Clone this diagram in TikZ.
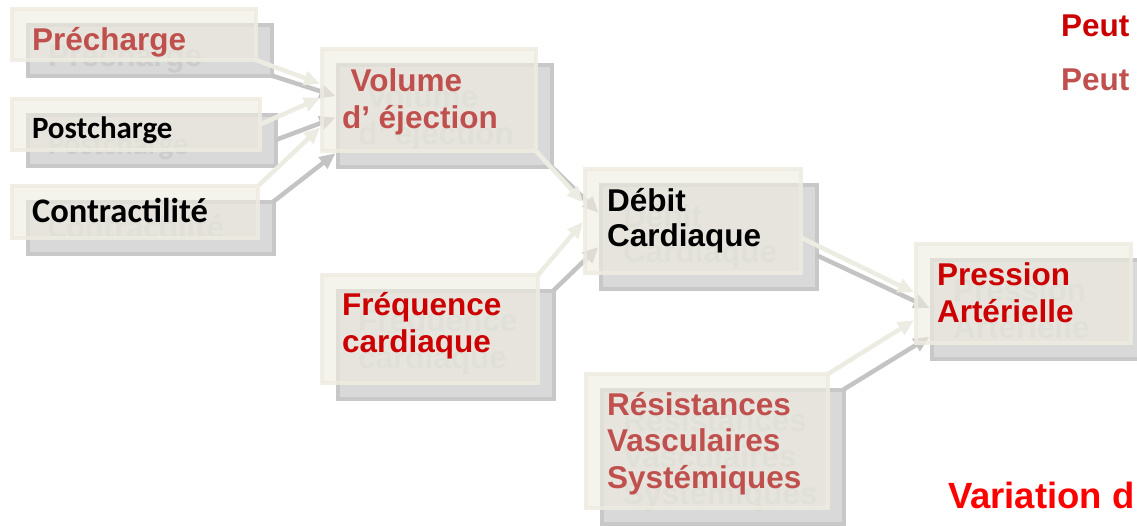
\documentclass[tikz,border=0pt]{standalone}
\usepackage{fontspec}
\newfontfamily\arialf{Liberation Sans}
\newfontfamily\calf{Carlito}
\usetikzlibrary{arrows.meta,calc}
\definecolor{frontc}{HTML}{EEECE1}
\definecolor{backfill}{HTML}{D9D9D9}
\definecolor{backedge}{HTML}{C8C8C8}
\definecolor{ghostc}{HTML}{CBCBCB}
\definecolor{lightarrow}{HTML}{EDECE2}
\definecolor{greyarrow}{HTML}{C4C4C4}
\definecolor{redA}{HTML}{C0504D}
\definecolor{redB}{HTML}{CC0000}
\definecolor{redC}{HTML}{FF0000}
\begin{document}
\begin{tikzpicture}[x=1pt,y=-1pt,
  frontbox/.style={draw=frontc, fill=frontc, fill opacity=0.62, draw opacity=0.85,
    line width=4pt, inner sep=0pt, outer sep=0pt, anchor=north west},
  backbox/.style={draw=backedge, fill=backfill, line width=4pt,
    inner sep=0pt, outer sep=0pt, anchor=north west},
  lbl/.style={inner sep=0pt, outer sep=0pt, anchor=base west, align=left,
    font=\arialf\bfseries\fontsize{31.5}{36.5}\selectfont},
  cal/.style={font=\calf\bfseries\fontsize{#1}{36}\selectfont},
  ghost/.style={text=ghostc},
  garrow/.style={draw=greyarrow, line width=4.5pt, -{Triangle[length=16pt,width=14pt]}},
  larrow/.style={draw=lightarrow, line width=4.5pt, -{Triangle[length=16pt,width=14pt]}}
]
\useasboundingbox (0,0) rectangle (1137,525);
\clip (0,0) rectangle (1137,525);
% ---------- back (shadow) layer ----------
\node[backbox, minimum width=244pt, minimum height=51pt]  (preB)  at (27.5,24.5) {};
\node[backbox, minimum width=248pt, minimum height=51pt]  (postB) at (27.5,114.5) {};
\node[backbox, minimum width=246pt, minimum height=52pt]  (conB)  at (27.5,201.5) {};
\node[backbox, minimum width=214pt, minimum height=102pt] (volB)  at (337.5,64.5) {};
\node[backbox, minimum width=216pt, minimum height=104pt] (debB)  at (600.5,184.5) {};
\node[backbox, minimum width=216pt, minimum height=108pt] (freB)  at (337.5,290.5) {};
\node[backbox, minimum width=215pt, minimum height=99pt]  (paB)   at (931.5,259.5) {};
\node[backbox, minimum width=242pt, minimum height=134pt] (resB)  at (601.5,389.5) {};

\node[lbl, ghost] (preG) at (48,66) {Précharge};
\node[lbl, ghost, cal=31] (postG) at (48,154) {Postcharge};
\node[lbl, ghost, cal=34.5] (conG) at (48,238) {Contractilité};
\node[lbl, ghost] (volG) at (358,144) {\hspace*{8.6pt}Volume\\d’ éjection};
\node[lbl, ghost, font=\arialf\bfseries\fontsize{31.5}{34.3}\selectfont] (debG) at (623,262) {Débit\\Cardiaque};
\node[lbl, ghost, font=\arialf\bfseries\fontsize{31.5}{37}\selectfont] (paG) at (953,338) {Pression\\Artérielle};
\node[lbl, ghost, font=\arialf\bfseries\fontsize{31.5}{37}\selectfont] (freG) at (358,368) {Fréquence\\cardiaque};
\node[lbl, ghost] (resG) at (623,504) {Résistances\\Vasculaires\\Systémiques};

\draw[garrow] (preB.south east) -- ($(volB.north west)!0.31!(volB.south west)+(-2,0)$);
\draw[garrow] (postB.east) -- ($(volB.north west)!0.52!(volB.south west)+(-2,0)$);
\draw[garrow] (conB.north east) -- ($(volB.north west)!0.87!(volB.south west)+(-2,0)$);
\draw[garrow] (volB.south east) -- ($(debB.north west)!0.27!(debB.south west)+(-2,0)$);
\draw[garrow] (freB.north east) -- ($(debB.north west)!0.60!(debB.south west)+(-2,0)$);
\draw[garrow] ($(debB.north east)!0.68!(debB.south east)$) -- ($(paB.north west)!0.49!(paB.south west)+(-2,0)$);
\draw[garrow] (resB.north east) -- ($(paB.north west)!0.78!(paB.south west)+(-2,0)$);

% ---------- front layer ----------
\node[frontbox, minimum width=244pt, minimum height=51pt]  (pre)  at (12,9) {};
\node[frontbox, minimum width=248pt, minimum height=51pt]  (post) at (12,99) {};
\node[frontbox, minimum width=246pt, minimum height=52pt]  (con)  at (12,186) {};
\node[frontbox, minimum width=214pt, minimum height=102pt] (vol)  at (322,49) {};
\node[frontbox, minimum width=216pt, minimum height=104pt] (deb)  at (585,169) {};
\node[frontbox, minimum width=216pt, minimum height=108pt] (fre)  at (322,275) {};
\node[frontbox, minimum width=215pt, minimum height=99pt]  (pa)   at (916,244) {};
\node[frontbox, minimum width=242pt, minimum height=134pt] (res)  at (586,374) {};

\draw[larrow] (pre.south east) -- ($(vol.north west)!0.34!(vol.south west)+(-2,0)$);
\draw[larrow] (post.east) -- ($(vol.north west)!0.48!(vol.south west)+(-2,0)$);
\draw[larrow] (con.north east) -- ($(vol.north west)!0.77!(vol.south west)+(-2,0)$);
\draw[larrow] (vol.south east) -- ($(deb.north west)!0.32!(deb.south west)+(-2,0)$);
\draw[larrow] (fre.north east) -- ($(deb.north west)!0.51!(deb.south west)+(-2,0)$);
\draw[larrow] ($(deb.north east)!0.66!(deb.south east)$) -- ($(pa.north west)!0.49!(pa.south west)+(-2,0)$);
\draw[larrow] (res.north east) -- ($(pa.north west)!0.77!(pa.south west)+(-2,0)$);

\node[lbl, text=redA] (preT) at (32,50) {Précharge};
\node[lbl, text=black, cal=31] (postT) at (32,138) {Postcharge};
\node[lbl, text=black, cal=34.5] (conT) at (32,222) {Contractilité};
\node[lbl, text=redA] (volT) at (342,128) {\hspace*{8.6pt}Volume\\d’ éjection};
\node[lbl, text=black, font=\arialf\bfseries\fontsize{31.5}{34.3}\selectfont] (debT) at (607,246) {Débit\\Cardiaque};
\node[lbl, text=redB, font=\arialf\bfseries\fontsize{31.5}{37}\selectfont] (paT) at (937,322) {Pression\\Artérielle};
\node[lbl, text=redB, font=\arialf\bfseries\fontsize{31.5}{37}\selectfont] (freT) at (342,352) {Fréquence\\cardiaque};
\node[lbl, text=redA] (resT) at (607,488) {Résistances\\Vasculaires\\Systémiques};

\node[lbl, text=redB] (peut1) at (1061,36) {Peut};
\node[lbl, text=redA] (peut2) at (1061,90.5) {Peut};
\node[lbl, text=redC, font=\arialf\bfseries\fontsize{36.5}{40}\selectfont] (varT) at (948,508) {Variation d};
\end{tikzpicture}
\end{document}
